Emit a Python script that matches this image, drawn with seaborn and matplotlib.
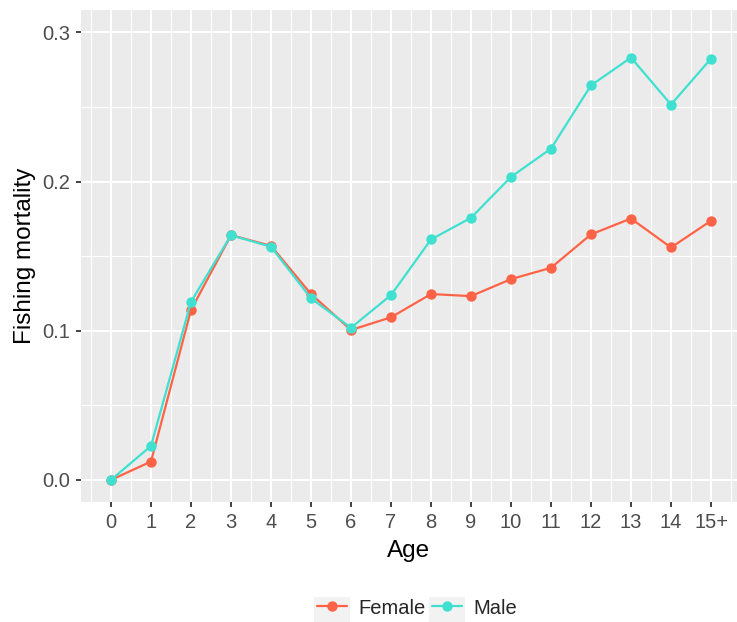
import numpy as np
import pandas as pd
import matplotlib
matplotlib.use("Agg")
import matplotlib.pyplot as plt
from matplotlib.patches import Rectangle
import seaborn as sns

# fishing mortality by age
ages = list(range(16))
age_labels = ["0", "1", "2", "3", "4", "5", "6", "7", "8", "9", "10", "11", "12", "13", "14", "15+"]
female = [0.0, 0.0123, 0.1139, 0.1641, 0.1569, 0.1246, 0.1005, 0.1090,
          0.1246, 0.1232, 0.1346, 0.1422, 0.1646, 0.1752, 0.1558, 0.1737]
male = [0.0, 0.0228, 0.1194, 0.1640, 0.1563, 0.1217, 0.1020, 0.1239,
        0.1612, 0.1757, 0.2031, 0.2221, 0.2645, 0.2831, 0.2516, 0.2824]
sexes = ["Female", "Male"]
colors = {"Female": "#FF6347", "Male": "#40E0D0"}

df = pd.DataFrame({
    "Age": ages * 2,
    "F": female + male,
    "Sex": ["Female"] * len(ages) + ["Male"] * len(ages),
})

sns.set_theme(style="darkgrid")
plt.rcParams["font.family"] = ["Liberation Sans", "DejaVu Sans"]

W, H = 737, 622
fig = plt.figure(figsize=(W / 100, H / 100), dpi=100)
ax = fig.add_axes([81 / W, 1 - 502.3 / H, 1 - 81 / W, (502.3 - 10) / H])
ax.set_facecolor("#EBEBEB")

sns.lineplot(data=df, x="Age", y="F", hue="Sex", hue_order=sexes, palette=colors,
             marker="o", markersize=7.5, markeredgewidth=0, linewidth=1.6, ax=ax)

ax.set_xlim(-0.75, 15.65)
ax.set_ylim(-0.015, 0.315)
ax.set_xticks(ages)
ax.set_xticklabels(age_labels)
ax.set_yticks([0.0, 0.1, 0.2, 0.3])
ax.set_yticklabels(["0.0", "0.1", "0.2", "0.3"])
ax.set_xticks(np.arange(-0.5, 16, 1), minor=True)
ax.set_yticks([0.05, 0.15, 0.25], minor=True)

ax.grid(which="major", color="white", linewidth=1.5)
ax.grid(which="minor", color="white", linewidth=0.8)
ax.set_axisbelow(True)
for s in ax.spines.values():
    s.set_visible(False)

ax.tick_params(which="major", length=3.6, width=1.3, color="#333333",
               labelsize=14.5, labelcolor="#4D4D4D", bottom=True, left=True)
ax.tick_params(axis="x", which="major", pad=4)
ax.tick_params(axis="y", which="major", pad=4)
ax.tick_params(which="minor", length=0)
ax.set_xlabel("Age", fontsize=17.5, color="black", labelpad=6)
ax.set_ylabel("Fishing mortality", fontsize=17.5, color="black", labelpad=4.5)

handles, labels = ax.get_legend_handles_labels()
ax.get_legend().remove()
leg = fig.legend(handles, labels, loc="center", bbox_to_anchor=(417 / W, 1 - 608 / H),
                 ncol=2, frameon=False, fontsize=14.5, handlelength=1.5, handletextpad=0.55,
                 columnspacing=0.35, borderpad=0)

# grey key boxes behind the legend handles, as in ggplot
fig.canvas.draw()
for h in leg.legend_handles:
    x0, x1 = min(h.get_xdata()), max(h.get_xdata())
    p0 = h.get_transform().transform((x0, 0))
    p1 = h.get_transform().transform((x1, 0))
    cy = p0[1]
    fig.patches.append(Rectangle(((p0[0] - 3) / W, (cy - 17) / H), (p1[0] - p0[0] + 6) / W, 34 / H,
                                 transform=fig.transFigure, facecolor="#F2F2F2",
                                 edgecolor="none", zorder=0))

fig.savefig("out.png", dpi=100)
